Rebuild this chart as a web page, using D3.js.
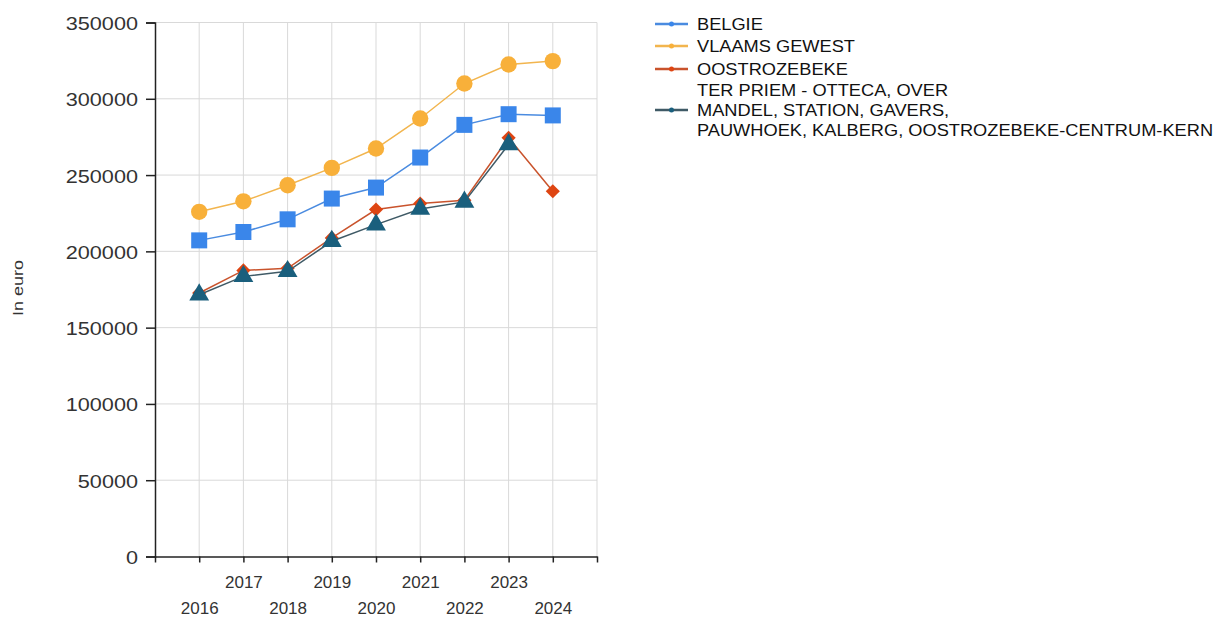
<!DOCTYPE html>
<html>
<head>
<meta charset="utf-8">
<script src="https://cdn.jsdelivr.net/npm/d3@7"></script>
<style>
  body { margin: 0; background: #fff; }
  svg { font-family: "Liberation Sans", Arial, sans-serif; }
</style>
</head>
<body>
<div id="chart"></div>
<script>
const width = 1223;
const height = 619;

// data
const years = [2016, 2017, 2018, 2019, 2020, 2021, 2022, 2023, 2024];
const belgie = [207200, 212700, 221000, 234600, 241800, 261500, 282900, 289900, 289100];
const vlaamsGewest = [225900, 232800, 243300, 254700, 267400, 287100, 310000, 322500, 324700];
const oostrozebeke = [172700, 187500, 188900, 208800, 227400, 231300, 233500, 274400, 239400];
const terPriem = [171600, 183600, 186900, 206600, 217500, 227800, 232400, 270000, null];
const yTicks = [0, 50000, 100000, 150000, 200000, 250000, 300000, 350000];

const series = [
  {name: ["BELGIE"], values: belgie, line: "#4a8be0", fill: "#3a86ea", shape: "square"},
  {name: ["VLAAMS GEWEST"], values: vlaamsGewest, line: "#f2b54e", fill: "#f8b03a", shape: "circle"},
  {name: ["OOSTROZEBEKE"], values: oostrozebeke, line: "#c9532c", fill: "#de4512", shape: "diamond"},
  {name: ["TER PRIEM - OTTECA, OVER", "MANDEL, STATION, GAVERS,", "PAUWHOEK, KALBERG, OOSTROZEBEKE-CENTRUM-KERN"],
   values: terPriem, line: "#3f5a66", fill: "#1a5f7d", shape: "triangle"}
];

// the reference text is a bit wider than Liberation Sans
const stretch = 1.14;

const svg = d3.select("#chart").append("svg")
    .attr("width", width)
    .attr("height", height);

const x = d3.scaleLinear().domain([2015, 2025]).range([155, 597]);
const y = d3.scaleLinear().domain([0, 350000]).range([556.5, 22.5]);

// grid
svg.append("g")
  .selectAll("line")
  .data(yTicks.slice(1))
  .join("line")
    .attr("x1", x(2015)).attr("x2", x(2025))
    .attr("y1", d => y(d)).attr("y2", d => y(d))
    .style("stroke", "#d9d9d9");

svg.append("g")
  .selectAll("line")
  .data(d3.range(2016, 2026))
  .join("line")
    .attr("x1", d => x(d)).attr("x2", d => x(d))
    .attr("y1", y(0)).attr("y2", y(350000))
    .style("stroke", "#d9d9d9");

// axes
const yAxis = svg.append("g")
    .attr("transform", `translate(${x(2015)},0)`)
    .call(d3.axisLeft(y).tickValues(yTicks).tickFormat(d3.format("d")).tickSize(9).tickPadding(8));
yAxis.select(".domain").style("stroke", "#222").style("stroke-width", 1.5);
yAxis.selectAll(".tick line").style("stroke", "#222").style("stroke-width", 1.5);
yAxis.selectAll("text")
    .style("font-size", "19px").style("fill", "#333")
    .attr("x", null).attr("dy", null)
    .attr("transform", `translate(-17,7) scale(${stretch},1)`);

const xAxis = svg.append("g")
    .attr("transform", `translate(0,${y(0)})`)
    .call(d3.axisBottom(x).tickValues(d3.range(2015, 2026)).tickSize(6).tickSizeOuter(0)
      .tickFormat(d => (d === 2015 || d === 2025) ? "" : d));
xAxis.select(".domain").style("stroke", "#222").style("stroke-width", 1.5);
xAxis.selectAll(".tick line").style("stroke", "#222").style("stroke-width", 1.5);
xAxis.selectAll("text")
    .style("font-size", "17px").style("fill", "#333")
    .attr("dy", null)
    .attr("y", d => d % 2 === 1 ? 31 : 57);

svg.append("text")
    .attr("transform", `translate(23,288) rotate(-90) scale(1.2,1)`)
    .attr("text-anchor", "middle")
    .style("font-size", "15px")
    .style("fill", "#333")
    .text("In euro");

const symbolFor = {
  square: d3.symbol(d3.symbolSquare, 256),
  circle: d3.symbol(d3.symbolCircle, 210),
  diamond: d3.symbol(d3.symbolSquare, 100),
  triangle: d3.symbol(d3.symbolTriangle, 170)
};

// lines + markers
series.forEach(s => {
  const pts = years.map((yr, i) => ({yr, v: s.values[i]})).filter(d => d.v != null);
  svg.append("path")
      .datum(pts)
      .attr("d", d3.line().x(d => x(d.yr)).y(d => y(d.v)))
      .style("fill", "none")
      .style("stroke", s.line)
      .style("stroke-width", 1.5);

  svg.append("g")
    .selectAll("path")
    .data(pts)
    .join("path")
      .attr("d", symbolFor[s.shape]())
      .attr("transform", d => `translate(${x(d.yr)},${y(d.v)})` + (s.shape === "diamond" ? " rotate(45)" : ""))
      .style("fill", s.fill);
});

// legend
const legendRows = [24, 46, 69, 110];
const legend = svg.append("g");
series.forEach((s, i) => {
  const cy = legendRows[i];
  legend.append("line")
      .attr("x1", 655).attr("x2", 688)
      .attr("y1", cy).attr("y2", cy)
      .style("stroke", s.line).style("stroke-width", 2.5);
  legend.append("circle")
      .attr("cx", 671.5).attr("cy", cy).attr("r", 2.5)
      .style("fill", s.fill);
  const startY = cy - (s.name.length - 1) / 2 * 20;
  s.name.forEach((ln, j) => {
    legend.append("text")
        .attr("transform", `translate(697,${startY + j * 20}) scale(${stretch},1)`)
        .attr("dy", "0.35em")
        .style("font-size", "16px")
        .style("fill", "#111")
        .text(ln);
  });
});
</script>
</body>
</html>
